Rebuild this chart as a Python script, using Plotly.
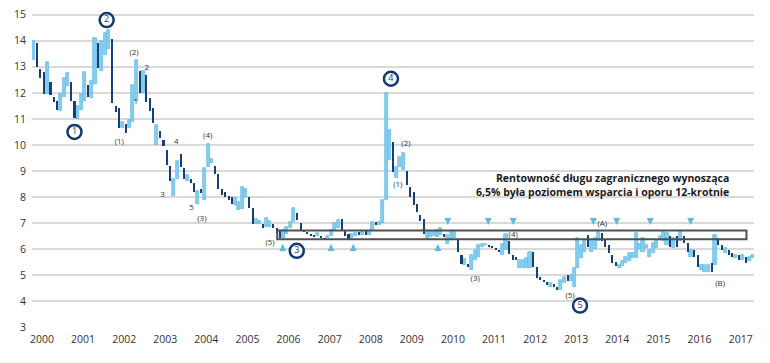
import plotly.graph_objects as go

years = [str(y) for y in range(2000, 2018)]
year_tick_pos = [2.5 + 12 * k for k in range(len(years))]
yield_ticks = list(range(3, 16))

# monthly bars, index 0 = first bar of 2000
opens = [
    13.25, 13.9, 12.9, 12.8, 11.95, 12.4, 11.85, 11.7, 11.3, 11.85, 12.25, 12.4,   # 2000
    11.7, 11.0, 11.35, 11.7, 12.3, 11.8, 12.35, 13.9, 12.85, 13.45, 13.7, 14.05,   # 2001
    11.5, 11.4, 10.65, 10.8, 10.65, 10.9, 11.7, 12.85, 12.0, 12.7, 11.8, 11.4,     # 2002
    10.0, 10.55, 10.2, 9.8, 9.2, 8.05, 8.7, 9.65, 9.1, 8.6, 8.7, 8.55,             # 2003
    7.75, 8.3, 7.9, 9.15, 9.3, 9.2, 8.9, 8.3, 8.2, 8.05, 8.0, 7.7,                 # 2004
    7.5, 7.55, 8.0, 8.0, 7.6, 6.97, 6.97, 6.97, 6.85, 6.85, 6.97, 6.8,             # 2005
    6.75, 6.42, 6.6, 6.8, 7.05, 7.4, 7.0, 6.75, 6.68, 6.6, 6.56, 6.5,              # 2006
    6.5, 6.45, 6.44, 6.5, 6.7, 6.8, 7.15, 6.75, 6.6, 6.45, 6.5, 6.68,              # 2007
    6.56, 6.75, 6.56, 6.7, 7.05, 6.92, 7.0, 7.9, 9.42, 10.12, 8.72, 9.16,          # 2008
    9.03, 9.0, 8.4, 8.2, 7.75, 7.3, 7.18, 6.4, 6.47, 6.5, 6.47, 6.54,              # 2009
    6.6, 6.2, 6.35, 6.45, 6.4, 5.77, 5.38, 5.45, 5.2, 5.58, 5.7, 6.08,             # 2010
    6.15, 6.15, 6.1, 6.05, 5.98, 5.77, 5.96, 6.33, 5.78, 5.72, 5.27, 5.27,         # 2011
    5.27, 5.27, 5.9, 5.33, 4.95, 4.82, 4.76, 4.56, 4.65, 4.56, 4.44, 4.7,          # 2012
    5.0, 4.8, 4.56, 5.27, 5.65, 5.9, 6.55, 5.9, 6.0, 6.3, 6.62, 6.36,              # 2013
    6.17, 5.78, 5.5, 5.27, 5.37, 5.46, 5.56, 5.65, 5.65, 6.0, 5.9, 6.04,           # 2014
    5.72, 5.85, 6.04, 6.36, 6.3, 6.17, 6.49, 6.04, 6.49, 6.3, 6.49, 6.23,          # 2015
    5.72, 5.97, 5.78, 5.2, 5.14, 5.14, 5.46, 5.4, 6.42, 6.17, 5.85, 5.97,          # 2016
    5.85, 5.65, 5.78, 5.6, 5.72, 5.55, 5.65,                                       # 2017
]
closes = [
    14.0, 13.0, 12.55, 11.95, 13.2, 11.9, 11.65, 11.35, 11.95, 12.55, 12.75, 11.7,
    11.05, 11.5, 11.95, 12.8, 11.85, 12.45, 14.1, 12.95, 14.0, 14.3, 14.4, 11.6,
    11.25, 10.65, 10.9, 10.45, 10.95, 12.3, 13.25, 12.0, 12.85, 11.65, 11.3, 10.85,
    10.75, 10.25, 9.95, 9.25, 8.6, 8.7, 9.4, 9.15, 8.7, 8.85, 8.55, 8.2,
    8.25, 8.15, 9.1, 10.05, 9.45, 8.9, 8.3, 8.1, 8.0, 7.9, 7.75, 7.95,
    7.8, 8.4, 8.3, 7.6, 6.97, 7.15, 7.1, 6.8, 7.2, 7.1, 6.8, 6.6,
    6.42, 6.75, 6.85, 7.05, 7.57, 7.13, 6.75, 6.66, 6.6, 6.52, 6.5, 6.62,
    6.44, 6.38, 6.5, 6.75, 7.0, 7.13, 6.7, 6.5, 6.35, 6.57, 6.62, 6.56,
    6.68, 6.56, 6.68, 7.05, 6.92, 7.05, 7.9, 12.0, 10.57, 8.97, 9.16, 9.55,
    9.68, 8.45, 8.0, 7.7, 7.44, 7.1, 6.6, 6.67, 6.67, 6.65, 6.73, 6.8,
    6.47, 6.54, 6.67, 6.65, 5.9, 5.45, 5.64, 5.32, 5.77, 5.96, 6.15, 6.2,
    6.2, 6.1, 6.05, 5.96, 5.9, 6.2, 6.6, 5.8, 5.6, 5.6, 5.6, 5.57,
    5.65, 5.9, 5.33, 4.88, 4.82, 4.75, 4.63, 4.7, 4.56, 4.44, 4.82, 4.95,
    4.8, 5.0, 5.27, 6.42, 6.17, 6.35, 6.1, 6.36, 6.42, 6.68, 6.3, 6.1,
    5.85, 5.46, 5.37, 5.4, 5.56, 5.72, 5.85, 5.85, 6.62, 6.2, 6.42, 6.17,
    5.97, 6.23, 6.36, 6.49, 6.68, 6.62, 6.1, 6.42, 6.1, 6.68, 6.23, 5.9,
    5.97, 5.72, 5.33, 5.4, 5.4, 5.4, 5.14, 6.55, 6.17, 5.97, 6.04, 5.78,
    5.72, 5.78, 5.6, 5.78, 5.46, 5.72, 5.78,
]

# 6.5% band and touch arrows (bar index)
band_low, band_high = 6.38, 6.72
band_start, band_end = 71.2, 208.2
support_touch_x = [72.8, 86.9, 93.4, 118.1]
resistance_touch_x = [121.0, 132.8, 140.1, 163.5, 170.3, 180.1, 191.9]
support_arrow_y = 6.2
resistance_arrow_y = 6.93

# circled wave markers
circle_labels = ["1", "2", "3", "4", "5"]
circle_x = [12.0, 21.4, 76.9, 104.4, 159.6]
circle_y = [10.5, 14.79, 5.94, 12.54, 3.84]

# wave count labels
wave_labels = ["(1)", "(2)", "2", "1", "4", "(4)", "3", "5", "(3)", "(5)",
               "(1)", "(2)", "(3)", "(4)", "(A)", "(5)", "(B)"]
wave_x = [25.1, 29.4, 33.1, 29.9, 41.7, 50.9, 37.7, 46.2, 49.2, 69.1,
          106.4, 108.8, 129.0, 140.1, 166.1, 156.7, 200.5]
wave_y = [10.13, 13.53, 12.95, 11.64, 10.13, 10.35, 8.08, 7.57, 7.18, 6.23,
          8.46, 10.02, 4.85, 6.54, 6.95, 4.22, 4.66]

LIGHT = "#5dbae4"
DARK = "#173f74"
NAVY = "#14396e"

up_x, up_base, up_h, dn_x, dn_base, dn_h = [], [], [], [], [], []
for i, (o, c) in enumerate(zip(opens, closes)):
    if c >= o:
        up_x.append(i); up_base.append(o); up_h.append(c - o)
    else:
        dn_x.append(i); dn_base.append(c); dn_h.append(o - c)

fig = go.Figure()
fig.add_trace(go.Bar(x=up_x, y=up_h, base=up_base, width=0.9,
                     marker=dict(color="#86cdee", line=dict(color=LIGHT, width=0.7)),
                     showlegend=False))
fig.add_trace(go.Bar(x=dn_x, y=dn_h, base=dn_base, width=0.6,
                     marker=dict(color=DARK, line=dict(width=0)),
                     showlegend=False))

fig.add_shape(type="rect", x0=band_start, x1=band_end, y0=band_low, y1=band_high,
              line=dict(color="#505050", width=2), fillcolor="rgba(0,0,0,0)")

for xv in support_touch_x:
    fig.add_annotation(x=xv, y=support_arrow_y, text="", showarrow=True,
                       ax=0, ay=8, arrowhead=2, arrowsize=0.7, arrowwidth=2,
                       arrowcolor=LIGHT, standoff=0)
for xv in resistance_touch_x:
    fig.add_annotation(x=xv, y=resistance_arrow_y, text="", showarrow=True,
                       ax=0, ay=-8, arrowhead=2, arrowsize=0.7, arrowwidth=2,
                       arrowcolor=LIGHT, standoff=0)

fig.add_trace(go.Scatter(x=wave_x, y=wave_y, mode="text", text=wave_labels,
                         textfont=dict(family="Open Sans", size=8, color="#333333"),
                         showlegend=False, cliponaxis=False))
fig.add_trace(go.Scatter(x=circle_x, y=circle_y, mode="markers+text", text=circle_labels,
                         marker=dict(size=14, color="white", line=dict(color=NAVY, width=2.5)),
                         textfont=dict(family="Open Sans", size=9, color=NAVY),
                         textposition="middle center", showlegend=False, cliponaxis=False))

fig.add_annotation(x=203.7, y=8.47, xanchor="right", yanchor="middle", align="right",
                   text="<b>Rentowność długu zagranicznego wynosząca<br>6,5% była poziomem wsparcia i oporu 12-krotnie</b>",
                   showarrow=False, font=dict(family="Open Sans", size=10.5, color="#1a1a1a"))

# page body has an 8px default margin, so the figure is sized/offset to compensate
fig.update_layout(
    width=762, height=355,
    margin=dict(l=24, r=16, t=3.7, b=34.8, autoexpand=False),
    paper_bgcolor="white", plot_bgcolor="white",
    barmode="overlay", bargap=0,
    font=dict(family="Open Sans", size=10.5, color="#333333"),
    showlegend=False,
)
fig.update_xaxes(range=[-0.4, 210.4], tickmode="array", tickvals=year_tick_pos,
                 ticktext=years, showgrid=False, zeroline=False, showline=False,
                 ticks="", automargin=False, ticklabelstandoff=3,
                 tickfont=dict(size=10.5, color="#333333"))
fig.update_yaxes(range=[2.98, 15.1], tickmode="array", tickvals=yield_ticks,
                 showgrid=True, gridcolor="#d9d9d9",
                 gridwidth=1.5, zeroline=False, showline=False, ticks="",
                 automargin=False, ticklabelstandoff=5, ticklabeloverflow="allow",
                 tickfont=dict(size=10.5, color="#333333"))

fig.write_html("out.html")
